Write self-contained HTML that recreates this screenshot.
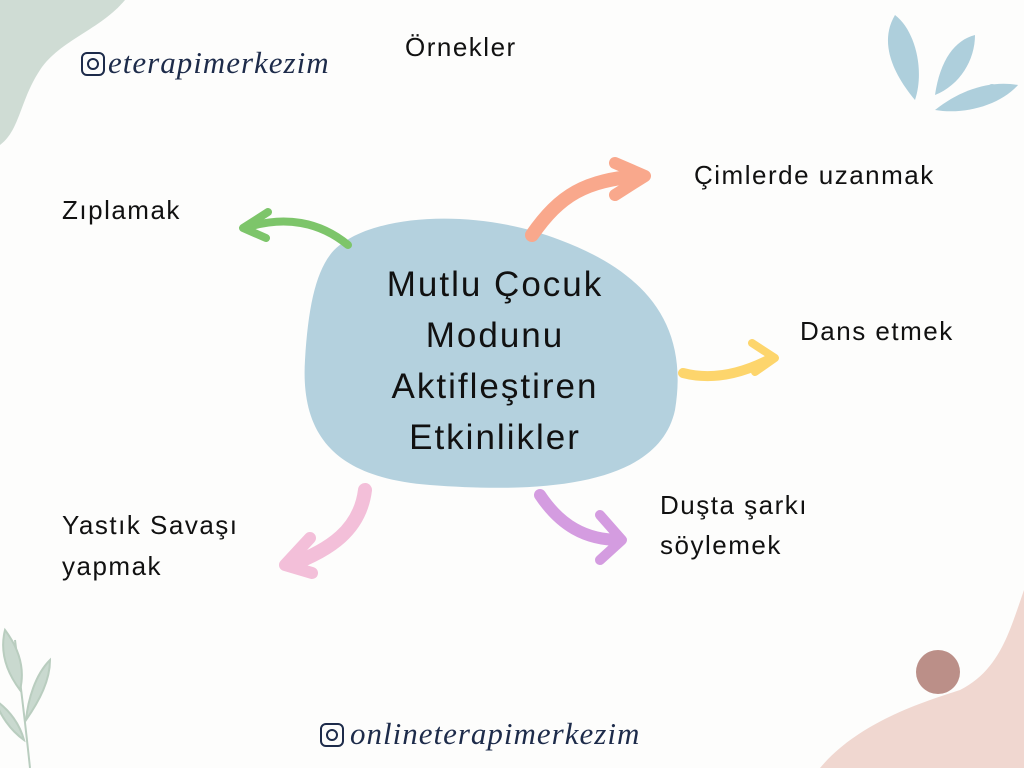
<!DOCTYPE html>
<html><head><meta charset="utf-8"><style>
body{margin:0;width:1024px;height:768px;background:#fdfdfc;position:relative;overflow:hidden;font-family:"Liberation Sans","DejaVu Sans",sans-serif;color:#111;}
.t{position:absolute;font-size:26px;letter-spacing:1.5px;}
.c{position:absolute;left:320px;top:259px;width:350px;text-align:center;font-size:35px;line-height:51px;letter-spacing:2px;}
.s{position:absolute;font-family:"Liberation Serif",serif;font-style:italic;color:#1d2b4a;font-size:31px;}
</style></head><body>
<svg width="1024" height="768" style="position:absolute;left:0;top:0">
<path d="M0 0 L125 0 C100 30 60 40 40 70 C20 100 20 130 0 145 Z" fill="#cfdcd4"/>
<g fill="#aecfdc">
<path d="M915 100 C890 70 880 40 895 15 C915 30 925 70 915 100Z"/>
<path d="M935 95 C940 60 955 40 975 35 C975 60 960 85 935 95Z"/>
<path d="M935 110 C960 90 990 80 1018 85 C1000 105 965 115 935 110Z"/>
<circle cx="992" cy="88" r="4"/>
</g>
<path d="M820 768 C860 720 930 700 960 690 C1000 670 1010 630 1024 590 L1024 768Z" fill="#f0d7d0"/>
<circle cx="938" cy="672" r="22" fill="#bb8f88"/>
<g fill="#c9d9cf" stroke="#b9cdbf" stroke-width="2">
<path d="M30 768 C25 720 20 680 15 640" fill="none"/>
<path d="M20 690 C5 670 0 650 5 630 C20 650 25 670 20 690Z"/>
<path d="M26 720 C40 700 50 680 50 660 C35 675 28 700 26 720Z"/>
<path d="M24 740 C10 730 0 715 -5 700 C10 710 20 725 24 740Z"/>
</g>
<path d="M330 255 C360 215 470 205 560 240 C640 270 690 320 675 410 C660 480 560 495 430 485 C340 478 300 440 305 360 C308 310 315 275 330 255Z" fill="#b4d1de"/>
<g fill="none" stroke-linecap="round" stroke-linejoin="round">
<path d="M348 245 C320 222 285 215 245 228" stroke="#7dc56a" stroke-width="8"/>
<path d="M268 212 L243 228 L266 238" stroke="#7dc56a" stroke-width="8"/>
<path d="M532 235 C560 195 585 180 640 176" stroke="#f9a88c" stroke-width="14"/>
<path d="M615 163 L645 176 L615 195" stroke="#f9a88c" stroke-width="12"/>
<path d="M683 373 C710 380 740 375 772 358" stroke="#fdd56c" stroke-width="10"/>
<path d="M752 343 L775 358 L755 372" stroke="#fdd56c" stroke-width="8"/>
<path d="M365 490 C360 530 330 550 290 565" stroke="#f3bfd9" stroke-width="14"/>
<path d="M310 538 L285 565 L312 573" stroke="#f3bfd9" stroke-width="12"/>
<path d="M540 495 C560 525 585 540 620 540" stroke="#d49ce0" stroke-width="12"/>
<path d="M600 515 L622 540 L600 560" stroke="#d49ce0" stroke-width="10"/>
</g>
<g fill="none" stroke="#1d2b4a" stroke-width="2">
<rect x="82" y="53" width="22" height="22" rx="5"/><circle cx="93" cy="64" r="5"/>
<rect x="321" y="724" width="22" height="22" rx="5"/><circle cx="332" cy="735" r="5"/>
</g>
</svg>
<div class="s" style="left:108px;top:45px;letter-spacing:1px">eterapimerkezim</div>
<div class="s" style="left:350px;top:716px;letter-spacing:1px">onlineterapimerkezim</div>
<div class="t" style="left:405px;top:32px">Örnekler</div>
<div class="t" style="left:694px;top:160px">Çimlerde uzanmak</div>
<div class="t" style="left:62px;top:195px">Zıplamak</div>
<div class="t" style="left:800px;top:316px">Dans etmek</div>
<div class="t" style="left:62px;top:505px;line-height:41px">Yastık Savaşı<br>yapmak</div>
<div class="t" style="left:660px;top:485px;line-height:40px">Duşta şarkı<br>söylemek</div>
<div class="c">Mutlu Çocuk<br>Modunu<br>Aktifleştiren<br>Etkinlikler</div>
</body></html>
